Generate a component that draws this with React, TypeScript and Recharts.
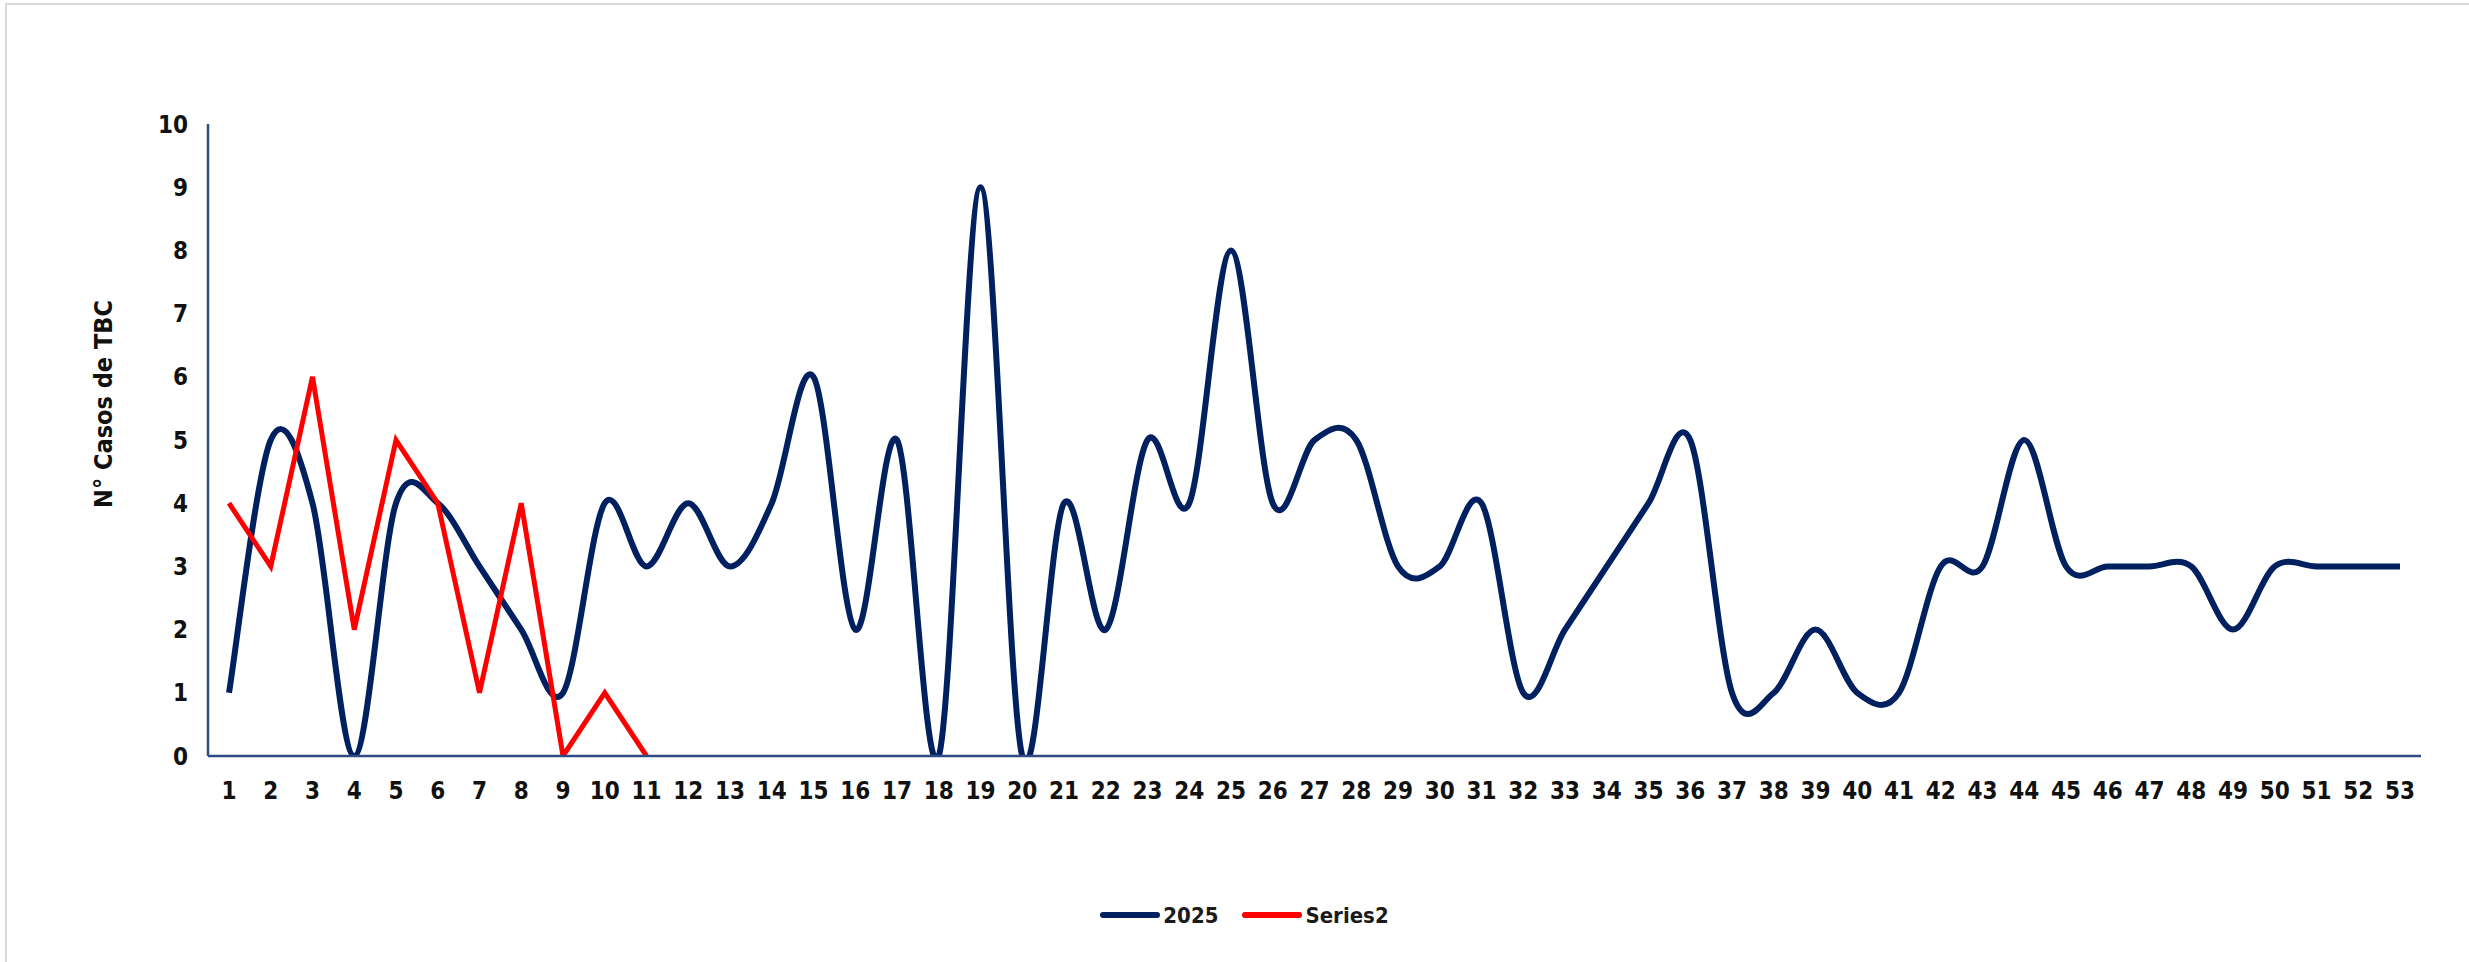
import { LineChart, Line, XAxis, YAxis, Legend } from 'recharts';

const weeks = Array.from({ length: 53 }, (_, i) => String(i + 1));

const cases2025 = [
  1, 5, 4, 0, 4, 4, 3, 2, 1, 4,
  3, 4, 3, 4, 6, 2, 5, 0, 9, 0,
  4, 2, 5, 4, 8, 4, 5, 5, 3, 3,
  4, 1, 2, 3, 4, 5, 1, 1, 2, 1,
  1, 3, 3, 5, 3, 3, 3, 3, 2, 3,
  3, 3, 3,
];

const series2 = [4, 3, 6, 2, 5, 4, 1, 4, 0, 1, 0];

const yTicks = [0, 1, 2, 3, 4, 5, 6, 7, 8, 9, 10];

const NAVY = '#002060';
const RED = '#FF0000';
const AXIS = '#2F4B84';
const FONT = '"DejaVu Sans Condensed", "DejaVu Sans", sans-serif';

// Excel-style smoothed line: cubic bezier with Catmull-Rom tangents (1/6)
function excelSmooth(context: any) {
  let pts: number[][] = [];
  return {
    areaStart() {},
    areaEnd() {},
    lineStart() {
      pts = [];
    },
    point(x: number, y: number) {
      pts.push([+x, +y]);
    },
    lineEnd() {
      if (!pts.length) return;
      context.moveTo(pts[0][0], pts[0][1]);
      for (let i = 0; i < pts.length - 1; i++) {
        const p0 = pts[i - 1] || pts[i];
        const p1 = pts[i];
        const p2 = pts[i + 1];
        const p3 = pts[i + 2] || p2;
        context.bezierCurveTo(
          p1[0] + (p2[0] - p0[0]) / 6,
          p1[1] + (p2[1] - p0[1]) / 6,
          p2[0] - (p3[0] - p1[0]) / 6,
          p2[1] - (p3[1] - p1[1]) / 6,
          p2[0],
          p2[1],
        );
      }
    },
  };
}

const data = weeks.map((w, i) => ({
  week: w,
  y2025: cases2025[i],
  s2: i < series2.length ? series2[i] : null,
}));

function LegendBox() {
  const items = [
    { label: '2025', color: NAVY },
    { label: 'Series2', color: RED },
  ];
  return (
    <div style={{ display: 'flex', justifyContent: 'center', alignItems: 'center', height: 30, fontFamily: FONT, fontSize: 22, fontWeight: 'bold', color: '#1a1a1a' }}>
      {items.map((it) => (
        <div key={it.label} style={{ display: 'flex', alignItems: 'center', margin: '0 12px' }}>
          <div style={{ width: 60, height: 6, borderRadius: 3, background: it.color, marginRight: 3 }} />
          <span>{it.label}</span>
        </div>
      ))}
    </div>
  );
}

export default function App() {
  return (
    <div style={{ position: 'absolute', left: 0, top: 0, width: 2469, height: 962, background: '#fff' }}>
      <div style={{ position: 'absolute', left: 5, top: 3, width: 2464, height: 959, borderLeft: '2px solid #d9d9d9', borderTop: '2px solid #d9d9d9' }} />
      <div style={{ position: 'absolute', left: 0, top: 0 }}>
        <LineChart width={2469} height={962} data={data} margin={{ top: 124, right: 48, left: 148, bottom: 126 }}>
          <XAxis
            dataKey="week"
            height={50}
            interval={0}
            padding={{ left: 21, right: 21 }}
            tickLine={false}
            axisLine={{ stroke: AXIS, strokeWidth: 2.5 }}
            tick={{ fontFamily: FONT, fontSize: 24, fill: '#111', fontWeight: 'bold' }}
            tickMargin={20}
          />
          <YAxis
            width={60}
            domain={[0, 10]}
            allowDataOverflow
            ticks={yTicks}
            interval={0}
            tickLine={false}
            axisLine={{ stroke: AXIS, strokeWidth: 2.5 }}
            tick={{ fontFamily: FONT, fontSize: 24, fill: '#111', fontWeight: 'bold' }}
            tickMargin={14}
            label={{
              value: 'N° Casos de TBC',
              angle: -90,
              position: 'insideLeft',
              offset: -45,
              dy: -36,
              style: { fontFamily: FONT, fontSize: 25, fontWeight: 'bold', fill: '#111', textAnchor: 'middle' },
            }}
          />
          <Legend
            verticalAlign="bottom"
            content={<LegendBox />}
            wrapperStyle={{ bottom: 32, left: 10, width: 2469 }}
          />
          <Line
            dataKey="y2025"
            name="2025"
            type={excelSmooth as any}
            stroke={NAVY}
            strokeWidth={6}
            dot={false}
            isAnimationActive={false}
          />
          <Line
            dataKey="s2"
            name="Series2"
            type="linear"
            stroke={RED}
            strokeWidth={5}
            dot={false}
            isAnimationActive={false}
          />
        </LineChart>
      </div>
    </div>
  );
}
